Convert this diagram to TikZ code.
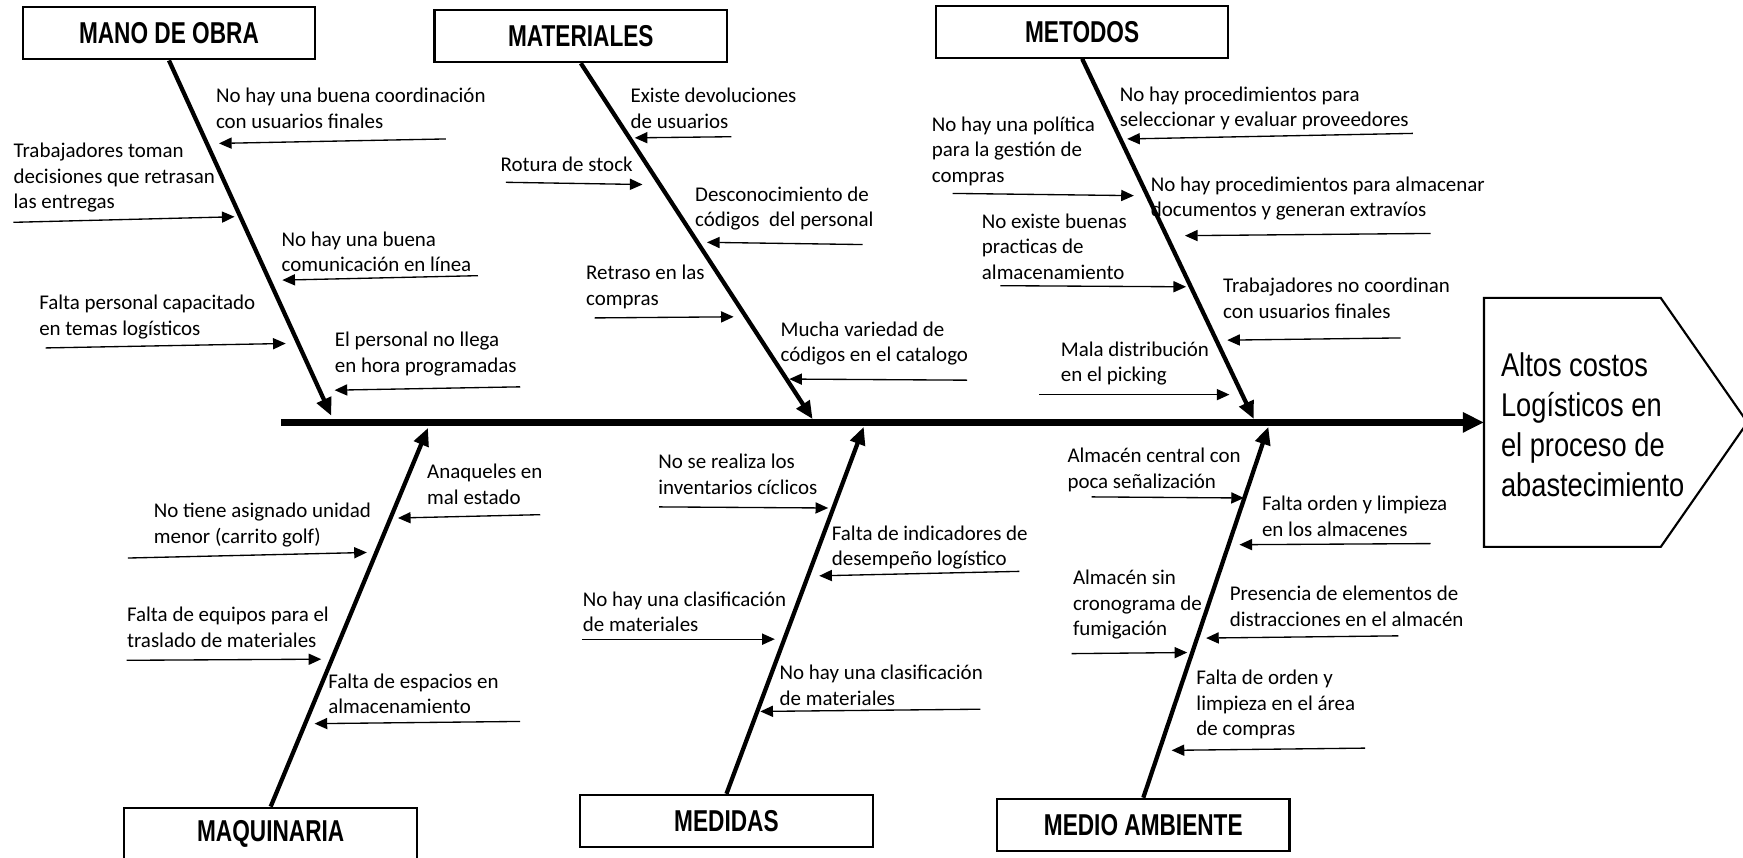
\documentclass[tikz,border=0pt]{standalone}
\usepackage{fontspec}
\setmainfont{Carlito}
\newfontfamily\titulofont[FakeStretch=0.75]{Liberation Sans Bold}
\newfontfamily\efectofont[FakeStretch=0.83]{Liberation Sans}
\usetikzlibrary{arrows.meta}

% cause text with its small arrow: name, text position, text, arrow start, arrow end
\newcommand{\subcausa}[5]{%
  \node[causa] (#1) at (#2) {#3};
  \coordinate (#1-a) at (#4);
  \coordinate (#1-b) at (#5);
  \draw[flechita] (#1-a) -- (#1-b);
}

\begin{document}
\begin{tikzpicture}[x=0.022cm, y=-0.022cm,
    categoria/.style={draw, line width=1.2pt, minimum width=5.79cm, minimum height=1.03cm,
      font=\titulofont\fontsize{17}{20}\selectfont},
    causa/.style={anchor=west, align=left, inner sep=0pt, font=\fontsize{11.8}{14.4}\selectfont},
    espina/.style={line width=2.4pt, -{Triangle[length=0.35cm,width=0.3cm]}},
    flechita/.style={line width=0.75pt, -{Triangle[length=0.25cm,width=0.22cm]}}]
    \useasboundingbox (0,0) rectangle (1568,771);
    \clip (0,0) rectangle (1568,771);

    % Effect box
    \draw[line width=1.2pt] (1335,268) -- (1494,268) -- (1572,380) -- (1494,492) -- (1335,492) -- cycle;
    \node[anchor=west, align=left, inner sep=0pt, font=\efectofont\fontsize{18.5}{22.4}\selectfont]
      (efecto) at (1350,382) {Altos costos\\Logísticos en\\el proceso de\\abastecimiento};

    % Main spine
    \coordinate (cola) at (253,380);
    \coordinate (cabeza) at (1335,380);
    \draw[line width=3.7pt, -{Triangle[length=0.42cm,width=0.38cm]}] (cola) -- (cabeza);

    % Category boxes
    \node[categoria] (mano) at (152,30) {MANO DE OBRA};
    \node[categoria] (materiales) at (522.5,32.5) {MATERIALES};
    \node[categoria] (metodos) at (973.5,28.5) {METODOS};
    \node[categoria] (maquinaria) at (243.5,750) {MAQUINARIA};
    \node[categoria] (medidas) at (653.5,738.5) {MEDIDAS};
    \node[categoria] (medio) at (1028.5,742) {MEDIO AMBIENTE};

    % Bones
    \coordinate (mano-fin) at (298,374);
    \coordinate (materiales-fin) at (731,377);
    \coordinate (metodos-fin) at (1128,377);
    \coordinate (maquinaria-fin) at (385,385);
    \coordinate (medidas-fin) at (777,384);
    \coordinate (medio-fin) at (1141,384);
    \draw[espina] (mano.south) -- (mano-fin);
    \draw[espina] (materiales.south) -- (materiales-fin);
    \draw[espina] (metodos.south) -- (metodos-fin);
    \draw[espina] (maquinaria.north) -- (maquinaria-fin);
    \draw[espina] (medidas.north) -- (medidas-fin);
    \draw[espina] (medio.north) -- (medio-fin);

    % Mano de obra
    \subcausa{mo1}{194,97.5}{No hay una buena coordinación\\con usuarios finales}{401,125}{197,129}
    \subcausa{mo2}{12,160}{Trabajadores toman\\decisiones que retrasan\\las entregas}{12,200}{211,195}
    \subcausa{mo3}{253,226.5}{No hay una buena\\comunicación en línea}{430,248}{254,252}
    \subcausa{mo4}{35,285}{Falta personal capacitado\\en temas logísticos}{41,313}{257,309}
    \subcausa{mo5}{301,318.5}{El personal no llega\\en hora programadas}{468,348}{301,351}

    % Materiales
    \subcausa{ma1}{567,97.5}{Existe devoluciones\\de usuarios}{658,123}{571,124}
    \subcausa{ma2}{450,148}{Rotura de stock}{455,164}{578,166}
    \subcausa{ma3}{625,187.5}{Desconocimiento de\\códigos\ \ del personal}{776,220}{636,218}
    \subcausa{ma4}{527,258}{Retraso en las\\compras}{535,286}{660,285}
    \subcausa{ma5}{702,309}{Mucha variedad de\\códigos en el catalogo}{870,342}{710,341}

    % Metodos
    \subcausa{me1}{1007,97.5}{No hay procedimientos para\\seleccionar y evaluar proveedores}{1271,120}{1014,125}
    \subcausa{me2}{838,136}{No hay una política\\para la gestión de\\compras}{857,174}{1020,176}
    \subcausa{me3}{1035,178.5}{No hay procedimientos para almacenar\\documentos y generan extravíos}{1287,210}{1066,212}
    \subcausa{me4}{883,222}{No existe buenas\\practicas de\\almacenamiento}{900,257}{1067,258}
    \subcausa{me5}{1100,268.5}{Trabajadores no coordinan\\con usuarios finales}{1260,304}{1104,306}
    \subcausa{me6}{954,327}{Mala distribución\\en el picking}{935,355}{1106,355}

    % Maquinaria
    \subcausa{mq1}{384,435.5}{Anaqueles en\\mal estado}{486,463}{358,466}
    \subcausa{mq2}{138,472.5}{No tiene asignado unidad\\menor (carrito golf)}{115,502}{330,497}
    \subcausa{mq3}{114,564.5}{Falta de equipos para el\\traslado de materiales}{114,594}{289,593}
    \subcausa{mq4}{295,624}{Falta de espacios en\\almacenamiento}{468,649}{283,651}

    % Medidas
    \subcausa{md1}{592,426.5}{No se realiza los\\inventarios cíclicos}{593,456}{745,457}
    \subcausa{md2}{748,492.5}{Falta de indicadores de\\desempeño logístico}{917,514}{737,518}
    \subcausa{md3}{524,550.5}{No hay una clasificación\\de materiales}{524,575}{697,575}
    \subcausa{md4}{701,616.5}{No hay una clasificación\\de materiales}{882,638}{684,640}

    % Medio ambiente
    \subcausa{mb1}{960,422.5}{Almacén central con\\poca señalización}{982,447}{1119,448}
    \subcausa{mb2}{1135,464.5}{Falta orden y limpieza\\en los almacenes}{1287,489}{1115,490}
    \subcausa{mb3}{965,544}{Almacén sin\\cronograma de\\fumigación}{964,588}{1068,587}
    \subcausa{mb4}{1106,545.5}{Presencia de elementos de\\distracciones en el almacén}{1258,572}{1085,574}
    \subcausa{mb5}{1076,634}{Falta de orden y\\limpieza en el área\\de compras}{1228,673}{1054,675}
\end{tikzpicture}
\end{document}
